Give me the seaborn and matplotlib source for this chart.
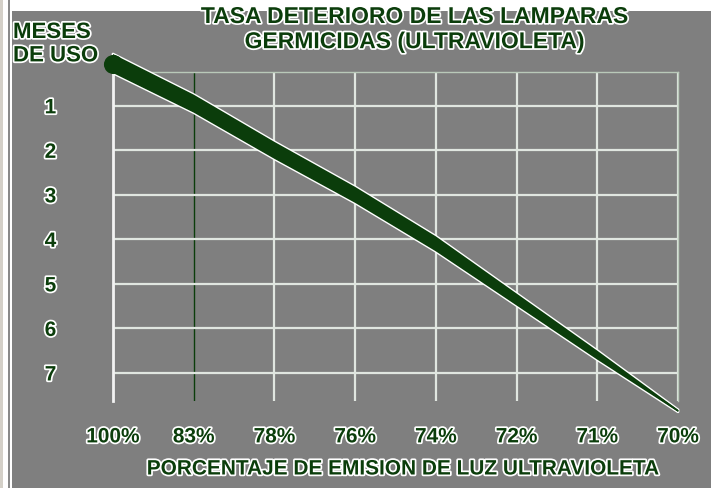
import matplotlib
matplotlib.use("Agg")
import matplotlib.pyplot as plt
import matplotlib.patheffects as pe
from matplotlib.patches import Rectangle
import numpy as np
import pandas as pd
import seaborn as sns

# months of use at each UV emission level
pct_labels = ["100%", "83%", "78%", "76%", "74%", "72%", "71%", "70%"]
months = [0.05, 0.95, 2.0, 3.0, 4.1, 5.35, 6.6, 7.85]
month_ticks = [1, 2, 3, 4, 5, 6, 7]

title = "TASA DETERIORO DE LAS LAMPARAS\nGERMICIDAS (ULTRAVIOLETA)"
ylabel = "MESES\nDE USO"
xlabel = "PORCENTAJE DE EMISION DE LUZ ULTRAVIOLETA"

GRAY = "#7f7f7f"
GREEN = "#0b3d0b"
GRID = "#e0e6e0"
W, H = 717, 489

sns.set_style("white")
plt.rcParams["font.family"] = ["Liberation Sans", "DejaVu Sans"]

halo = [pe.withStroke(linewidth=2.5, foreground="white")]
txt = dict(color=GREEN, fontweight="bold", path_effects=halo)

fig = plt.figure(figsize=(W / 100, H / 100), dpi=100)
fig.patch.set_facecolor("white")
# gray panel plus the light frame strip on the left
fig.patches.append(Rectangle((12 / W, 0), 699 / W, 477 / H, transform=fig.transFigure,
                             facecolor=GRAY, edgecolor="none", zorder=-2))
fig.patches.append(Rectangle((0, 0), 3 / W, 1, transform=fig.transFigure,
                             facecolor="#d4d0c8", edgecolor="none", zorder=-2))
fig.patches.append(Rectangle((8 / W, 0), 2 / W, 1, transform=fig.transFigure,
                             facecolor="#8a8a8a", edgecolor="none", zorder=-2))

ax = fig.add_axes([113 / W, 1 - 402 / H, 565 / W, 329 / H])
ax.set_facecolor(GRAY)

df = pd.DataFrame({"pos": np.arange(len(pct_labels)), "meses": months})

ax.set_xlim(0, len(pct_labels) - 1)
ax.set_ylim(7.63, 0.24)

# tapering stroke: half width in pixels at each point
taper_px = np.array([9.5, 9.0, 8.5, 8.0, 7.5, 6.0, 4.5, 1.0])
px_per_month = 329 / (7.63 - 0.24)
hw = taper_px / px_per_month
y = df["meses"].to_numpy()
ax.fill_between(df["pos"], y - hw, y + hw, color=GREEN, lw=0, clip_on=False, zorder=4,
                path_effects=[pe.withStroke(linewidth=2, foreground="white")])
sns.lineplot(data=df, x="pos", y="meses", color=GREEN, lw=1.2, ax=ax, zorder=5)
for ln in ax.lines:
    ln.set_clip_on(False)
ax.scatter(df["pos"][:1], df["meses"][:1], s=190, color=GREEN, clip_on=False, zorder=5,
           linewidths=0)

ax.set_xticks(df["pos"])
ax.set_xticklabels(pct_labels, fontsize=15, **txt)
ax.set_yticks(month_ticks)
ax.set_yticklabels([str(m) for m in month_ticks], fontsize=15, ha="center", **txt)
ax.tick_params(length=0)
ax.tick_params(axis="x", pad=19)
ax.tick_params(axis="y", pad=45)
ax.set_xlabel("")
ax.set_ylabel("")

ax.grid(True, color=GRID, lw=1.6, zorder=1)
ax.get_xgridlines()[1].set_color(GREEN)
ax.get_xgridlines()[1].set_linewidth(1.0)
ax.set_axisbelow(True)

for side in ["top", "right"]:
    ax.spines[side].set_color("#b9c9b9")
    ax.spines[side].set_linewidth(1.0)
ax.spines["left"].set_color("#f2f2f2")
ax.spines["left"].set_linewidth(2.0)
ax.spines["bottom"].set_visible(False)

fig.text(414 / W, 1 - 6 / H, title, ha="center", va="top", fontsize=16.5, linespacing=1.12, **txt)
fig.text(13 / W, 1 - 23 / H, ylabel, ha="left", va="top", fontsize=16, linespacing=1.15, **txt)
fig.text(403 / W, 1 - 470 / H, xlabel, ha="center", va="center", fontsize=15, **txt)

fig.savefig("out.png", dpi=100)
